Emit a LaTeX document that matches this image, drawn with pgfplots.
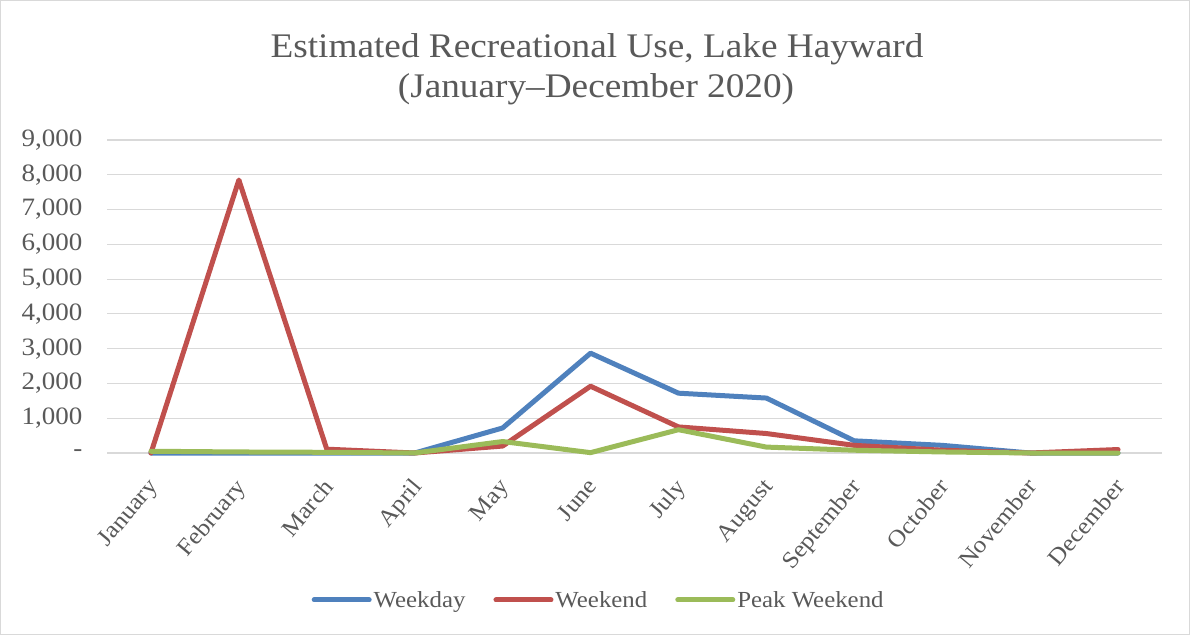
\documentclass[border=0pt]{standalone}
\usepackage{pgfplots}
\pgfplotsset{compat=1.18}
\usepackage{fontspec}
\setmainfont{Liberation Serif}[FakeStretch=1.08]
\definecolor{cblue}{HTML}{4F81BD}
\definecolor{cred}{HTML}{C0504D}
\definecolor{cgreen}{HTML}{9BBB59}
\definecolor{cgrid}{HTML}{D9D9D9}
\definecolor{ctext}{HTML}{595959}
\begin{document}
\begin{tikzpicture}[x=1pt,y=1pt]
\draw[cgrid, line width=1pt] (0.5,0.5) rectangle (1189.5,634.5);
\node[anchor=base, text=ctext, font=\fontsize{34.5}{40}\selectfont] at (597,577) {Estimated Recreational Use, Lake Hayward};
\node[anchor=base, text=ctext, font=\fontsize{34.5}{40}\selectfont] at (596,537) {(January–December 2020)};
\begin{axis}[
  at={(107pt,182pt)}, anchor=south west,
  width=1055pt, height=313pt, scale only axis,
  xmin=-0.5, xmax=11.5, ymin=0, ymax=9000,
  clip=false,
  axis line style={draw=none},
  major tick length=0pt,
  ymajorgrids, grid style={cgrid, line width=1.2pt},
  ytick={0,1000,...,9000},
  yticklabels={{-},{1,000},{2,000},{3,000},{4,000},{5,000},{6,000},{7,000},{8,000},{9,000}},
  yticklabel style={text=ctext, font=\fontsize{25}{25}\selectfont, anchor=east, xshift=-21pt},
  xtick={0,...,11},
  xticklabels={January,February,March,April,May,June,July,August,September,October,November,December},
  xticklabel style={text=ctext, font=\fontsize{23.5}{23.5}\selectfont, xshift=-5pt, yshift=-19pt, rotate=50, anchor=north east},
  /pgf/number format/assume math mode=true,
  legend style={at={(0.466,-0.4695)}, anchor=center, draw=none, fill=none,
    legend columns=3, font=\fontsize{23}{23}\selectfont, text=ctext,
    /tikz/every even column/.append style={column sep=26pt}},
  legend image code/.code={\draw[#1] (0pt,0pt) -- (55pt,0pt);},
  every axis plot/.append style={line width=5pt, line join=round, line cap=round},
]
\addplot[cblue] coordinates {(0,0) (1,0) (2,0) (3,0) (4,720) (5,2870) (6,1720) (7,1580) (8,350) (9,220) (10,0) (11,0)};
\addplot[cred] coordinates {(0,0) (1,7850) (2,110) (3,0) (4,200) (5,1920) (6,750) (7,560) (8,220) (9,80) (10,0) (11,100)};
\addplot[cgreen] coordinates {(0,50) (1,30) (2,20) (3,0) (4,330) (5,10) (6,670) (7,170) (8,80) (9,30) (10,0) (11,0)};
\legend{Weekday,Weekend,Peak Weekend}
\end{axis}
\end{tikzpicture}
\end{document}
